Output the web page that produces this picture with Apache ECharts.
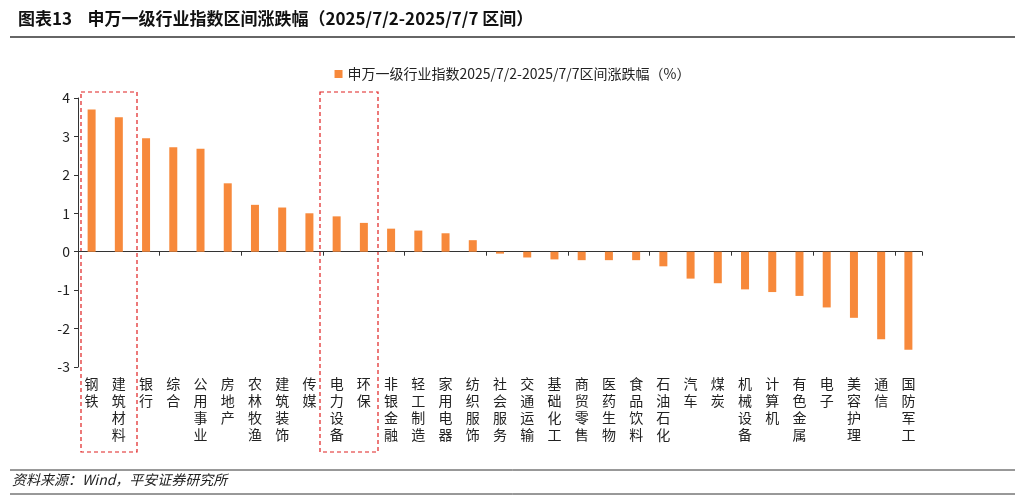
<!DOCTYPE html>
<html><head><meta charset="utf-8">
<script src="https://cdn.jsdelivr.net/npm/echarts@6/dist/echarts.min.js"></script>
<style>body{margin:0;background:#fff}#c{width:1025px;height:501px}</style>
</head><body><div id="c"></div>
<script>
const categories = ['钢铁','建筑材料','银行','综合','公用事业','房地产','农林牧渔','建筑装饰','传媒','电力设备','环保','非银金融','轻工制造','家用电器','纺织服饰','社会服务','交通运输','基础化工','商贸零售','医药生物','食品饮料','石油石化','汽车','煤炭','机械设备','计算机','有色金属','电子','美容护理','通信','国防军工'];
const changes = [3.7,3.5,2.95,2.72,2.68,1.78,1.22,1.15,1.0,0.92,0.75,0.6,0.55,0.48,0.3,-0.05,-0.15,-0.2,-0.22,-0.22,-0.22,-0.38,-0.7,-0.82,-0.98,-1.05,-1.15,-1.45,-1.72,-2.28,-2.55];
const seriesName = '申万一级行业指数2025/7/2-2025/7/7区间涨跌幅（%）';
const font = '"Noto Sans CJK SC", sans-serif';

const chart = echarts.init(document.getElementById('c'));
chart.setOption({
  animation: false,
  textStyle: { fontFamily: font },
  legend: {
    top: 62, left: 'center', itemWidth: 8, itemHeight: 8, icon: 'rect',
    textStyle: { fontSize: 14, color: '#222' }
  },
  grid: { left: 78, right: 103, top: 98, bottom: 134 },
  xAxis: [
    {
      type: 'category', data: categories,
      axisLine: { onZero: true, lineStyle: { color: '#333' } },
      axisTick: { show: true, length: 4, inside: false, lineStyle: { color: '#333' } },
      axisLabel: { show: false }
    },
    {
      type: 'category', data: categories, position: 'bottom',
      axisLine: { show: false }, axisTick: { show: false },
      axisLabel: {
        interval: 0, fontSize: 14, color: '#222', lineHeight: 17, margin: 8,
        formatter: v => v.split('').join('\n')
      }
    }
  ],
  yAxis: {
    type: 'value', min: -3, max: 4, interval: 1,
    axisLine: { show: true, lineStyle: { color: '#333' } },
    axisTick: { show: true, length: 4, lineStyle: { color: '#333' } },
    splitLine: { show: false },
    axisLabel: { fontSize: 14, color: '#222' }
  },
  series: [{
    name: seriesName, type: 'bar', data: changes, barWidth: 8,
    itemStyle: { color: '#F7893B' }
  }],
  graphic: [
    { type: 'text', left: 18, top: 10, style: { text: '图表13    申万一级行业指数区间涨跌幅（2025/7/2-2025/7/7 区间）', font: 'bold 17px ' + font, fill: '#111' } },
    { type: 'line', shape: { x1: 10, y1: 37, x2: 1015, y2: 37 }, style: { stroke: '#333', lineWidth: 1.5 } },
    { type: 'rect', shape: { x: 81, y: 92, width: 56, height: 360 }, style: { fill: 'none', stroke: '#E02020', lineDash: [4, 3], lineWidth: 1.2 } },
    { type: 'rect', shape: { x: 320, y: 92, width: 58, height: 360 }, style: { fill: 'none', stroke: '#E02020', lineDash: [4, 3], lineWidth: 1.2 } },
    { type: 'line', shape: { x1: 10, y1: 470, x2: 1015, y2: 470 }, style: { stroke: '#333', lineWidth: 1 } },
    { type: 'text', left: 12, top: 473, style: { text: '资料来源：Wind，平安证券研究所', font: 'italic 14px ' + font, fill: '#222' } },
    { type: 'line', shape: { x1: 10, y1: 494, x2: 1015, y2: 494 }, style: { stroke: '#333', lineWidth: 1 } }
  ]
});
</script></body></html>
